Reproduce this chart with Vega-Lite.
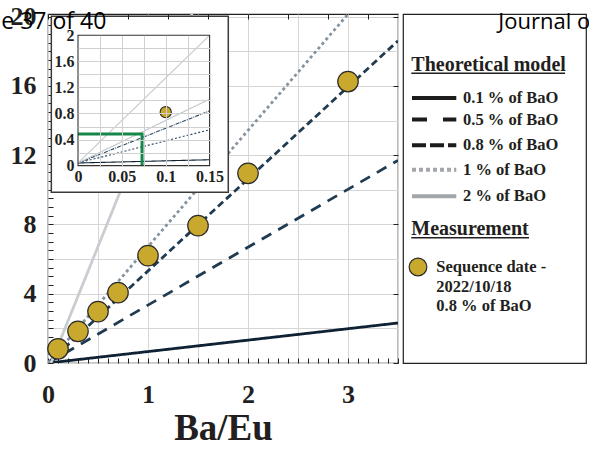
{
  "$schema": "https://vega.github.io/schema/vega-lite/v6.json",
  "padding": {"left": 0, "top": 2, "right": 0, "bottom": 0},
  "background": "white",
  "config": {"view": {"stroke": "#231f20", "strokeWidth": 1.2}, "font": "Liberation Serif"},
  "datasets": {
    "main_lines": [
      {"model": "0.1 % of BaO", "ba_eu": 0, "ratio": 0},
      {"model": "0.1 % of BaO", "ba_eu": 3.5, "ratio": 2.31},
      {"model": "0.5 % of BaO", "ba_eu": 0, "ratio": 0},
      {"model": "0.5 % of BaO", "ba_eu": 3.5, "ratio": 11.7},
      {"model": "0.8 % of BaO", "ba_eu": 0, "ratio": 0},
      {"model": "0.8 % of BaO", "ba_eu": 3.5, "ratio": 18.6},
      {"model": "1 % of BaO", "ba_eu": 0, "ratio": 0},
      {"model": "1 % of BaO", "ba_eu": 3.5, "ratio": 23.5},
      {"model": "2 % of BaO", "ba_eu": 0.03, "ratio": 0},
      {"model": "2 % of BaO", "ba_eu": 1.6, "ratio": 22.45}
    ],
    "measurements": [
      {"ba_eu": 0.1, "ratio": 0.82},
      {"ba_eu": 0.3, "ratio": 1.83},
      {"ba_eu": 0.5, "ratio": 2.97},
      {"ba_eu": 0.7, "ratio": 4.06},
      {"ba_eu": 1.0, "ratio": 6.2},
      {"ba_eu": 1.5, "ratio": 7.93},
      {"ba_eu": 2.0, "ratio": 10.95},
      {"ba_eu": 3.0, "ratio": 16.25}
    ],
    "inset_lines": [
      {"model": "0.1 % of BaO", "ba_eu": 0, "ratio": 0.04},
      {"model": "0.1 % of BaO", "ba_eu": 0.15, "ratio": 0.09},
      {"model": "0.5 % of BaO", "ba_eu": 0, "ratio": 0.04},
      {"model": "0.5 % of BaO", "ba_eu": 0.15, "ratio": 0.55},
      {"model": "0.8 % of BaO", "ba_eu": 0, "ratio": 0.04},
      {"model": "0.8 % of BaO", "ba_eu": 0.15, "ratio": 0.84},
      {"model": "1 % of BaO", "ba_eu": 0, "ratio": 0.04},
      {"model": "1 % of BaO", "ba_eu": 0.15, "ratio": 1.02},
      {"model": "2 % of BaO", "ba_eu": 0, "ratio": 0.04},
      {"model": "2 % of BaO", "ba_eu": 0.15, "ratio": 2.0}
    ],
    "inset_point": [{"ba_eu": 0.1, "ratio": 0.82}],
    "threshold": [
      {"ba_eu": 0, "ratio": 0.485, "step": 1},
      {"ba_eu": 0.073, "ratio": 0.485, "step": 2},
      {"ba_eu": 0.073, "ratio": 0, "step": 3}
    ],
    "legend_headers": [
      {"label": "Theoretical model", "row": 5.68},
      {"label": "Measurement", "row": 22.12}
    ],
    "legend_models": [
      {"label": "0.1 % of BaO", "row": 8.42},
      {"label": "0.5 % of BaO", "row": 10.59},
      {"label": "0.8 % of BaO", "row": 13.17},
      {"label": "1 % of BaO", "row": 15.61},
      {"label": "2 % of BaO", "row": 18.28}
    ],
    "legend_measurement": [
      {"label": "Sequence date -\n2022/10/18\n0.8 % of BaO", "row": 25.37}
    ]
  },
  "hconcat": [
    {
      "width": 350,
      "height": 349,
      "layer": [
        {
          "data": {"name": "measurements"},
          "mark": {"type": "point", "opacity": 0},
          "encoding": {
            "x": {
              "field": "ba_eu", "type": "quantitative",
              "scale": {"domain": [0, 3.5], "nice": false, "zero": false},
              "axis": {
                "orient": "bottom", "title": null, "labels": false, "domain": false,
                "values": [0,0.1,0.2,0.3,0.4,0.5,0.6,0.7,0.8,0.9,1,1.1,1.2,1.3,1.4,1.5,1.6,1.7,1.8,1.9,2,2.1,2.2,2.3,2.4,2.5,2.6,2.7,2.8,2.9,3,3.1,3.2,3.3,3.4,3.5],
                "tickSize": -5, "tickColor": "#231f20", "tickWidth": 1,
                "grid": true, "gridColor": "#d6d6d6", "gridWidth": 1,
                "gridOpacity": {"condition": {"test": "abs(datum.value*2 - round(datum.value*2)) < 0.001", "value": 1}, "value": 0}
              }
            },
            "y": {
              "field": "ratio", "type": "quantitative",
              "scale": {"domain": [0, 20.15], "nice": false, "zero": false},
              "axis": {
                "orient": "left", "title": null, "labels": false, "domain": false,
                "values": [0,0.5,1,1.5,2,2.5,3,3.5,4,4.5,5,5.5,6,6.5,7,7.5,8,8.5,9,9.5,10,10.5,11,11.5,12,12.5,13,13.5,14,14.5,15,15.5,16,16.5,17,17.5,18,18.5,19,19.5,20],
                "tickSize": -5, "tickColor": "#231f20", "tickWidth": 1,
                "grid": true, "gridColor": "#d6d6d6", "gridWidth": 1,
                "gridOpacity": {"condition": {"test": "abs(datum.value/2 - round(datum.value/2)) < 0.001", "value": 1}, "value": 0}
              }
            }
          }
        },
        {
          "layer": [
            {
              "data": {"name": "main_lines"},
              "mark": {"type": "line", "clip": true, "strokeCap": "butt", "strokeWidth": 2.8},
              "encoding": {
                "x": {
                  "field": "ba_eu", "type": "quantitative",
                  "scale": {"domain": [0, 3.5], "nice": false, "zero": false},
                  "axis": {
                    "orient": "bottom", "title": "Ba/Eu", "values": [0, 1, 2, 3], "format": "d",
                    "labelFont": "Liberation Serif", "labelFontWeight": "bold", "labelFontSize": 26, "labelColor": "#231f20",
                    "labelPadding": 18, "labelOverlap": false, "labelFlush": false, "labelBound": false,
                    "ticks": false, "domain": false, "grid": false,
                    "titleFont": "Liberation Serif", "titleFontWeight": "bold", "titleFontSize": 37, "titleColor": "#231f20", "titlePadding": 3
                  }
                },
                "y": {
                  "field": "ratio", "type": "quantitative",
                  "scale": {"domain": [0, 20.15], "nice": false, "zero": false},
                  "axis": {
                    "orient": "left", "title": null, "values": [0, 4, 8, 12, 16, 20], "format": "d",
                    "labelFont": "Liberation Serif", "labelFontWeight": "bold", "labelFontSize": 26, "labelColor": "#231f20",
                    "labelPadding": 12, "labelOverlap": false, "labelFlush": false, "labelBound": false,
                    "ticks": false, "domain": false, "grid": false
                  }
                },
                "detail": {"field": "model"},
                "color": {
                  "field": "model", "type": "nominal", "legend": null,
                  "scale": {"domain": ["0.1 % of BaO","0.5 % of BaO","0.8 % of BaO","1 % of BaO","2 % of BaO"],
                            "range": ["#0e2233","#1f3b52","#1f3b52","#8593a0","#c9cdd1"]}
                },
                "strokeDash": {
                  "field": "model", "type": "nominal", "legend": null,
                  "scale": {"domain": ["0.1 % of BaO","0.5 % of BaO","0.8 % of BaO","1 % of BaO","2 % of BaO"],
                            "range": [[1,0],[11,8],[7,4],[3,3],[1,0]]}
                }
              }
            },
            {
              "data": {"name": "measurements"},
              "mark": {"type": "circle", "size": 420, "opacity": 1, "fill": "#c8a92d", "stroke": "#2a2a2a", "strokeWidth": 1.2},
              "encoding": {
                "x": {"field": "ba_eu", "type": "quantitative"},
                "y": {"field": "ratio", "type": "quantitative"}
              }
            }
          ]
        },
        {
          "layer": [
            {
              "data": {"values": [{}]},
              "mark": {"type": "rect", "fill": "white", "stroke": "#3a3a3a", "strokeWidth": 1.5},
              "encoding": {
                "x": {"datum": -0.0304, "type": "quantitative", "scale": {"domain": [0, 0.15], "range": [30, 161.6], "nice": false, "zero": false}},
                "x2": {"datum": 0.1713},
                "y": {"datum": -0.41, "type": "quantitative", "scale": {"domain": [0, 2], "range": [151.6, 21.3], "nice": false, "zero": false}},
                "y2": {"datum": 2.292}
              }
            },
            {
              "data": {"name": "inset_lines"},
              "mark": {"type": "line", "strokeWidth": 1.1, "strokeCap": "butt"},
              "encoding": {
                "x": {
                  "field": "ba_eu", "type": "quantitative",
                  "scale": {"domain": [0, 0.15], "range": [30, 161.6], "nice": false, "zero": false},
                  "axis": {
                    "orient": "bottom", "offset": -197.4, "title": null,
                    "values": [0, 0.05, 0.1, 0.15],
                    "labelExpr": "format(datum.value, '~g')",
                    "ticks": false, "domain": false, "grid": false,
                    "labelFont": "Liberation Serif", "labelFontWeight": "bold", "labelFontSize": 16, "labelColor": "#231f20",
                    "labelPadding": 3, "labelOverlap": false, "labelFlush": false, "labelBound": false, "zindex": 1
                  }
                },
                "y": {
                  "field": "ratio", "type": "quantitative",
                  "scale": {"domain": [0, 2], "range": [151.6, 21.3], "nice": false, "zero": false},
                  "axis": {
                    "orient": "left", "offset": -30, "title": null,
                    "values": [0, 0.4, 0.8, 1.2, 1.6, 2],
                    "labelExpr": "format(datum.value, '~g')",
                    "ticks": false, "domain": false, "grid": false,
                    "labelFont": "Liberation Serif", "labelFontWeight": "bold", "labelFontSize": 16, "labelColor": "#231f20",
                    "labelPadding": 4, "labelOverlap": false, "labelFlush": false, "labelBound": false, "zindex": 1
                  }
                },
                "detail": {"field": "model"},
                "color": {
                  "field": "model", "type": "nominal", "legend": null,
                  "scale": {"domain": ["0.1 % of BaO","0.5 % of BaO","0.8 % of BaO","1 % of BaO","2 % of BaO"],
                            "range": ["#0e2233","#2e4a63","#2e4a63","#c0c5ca","#c5c9cc"]}
                },
                "strokeDash": {
                  "field": "model", "type": "nominal", "legend": null,
                  "scale": {"domain": ["0.1 % of BaO","0.5 % of BaO","0.8 % of BaO","1 % of BaO","2 % of BaO"],
                            "range": [[1,0],[2,2],[4,1,1,1],[1,0],[1,0]]}
                }
              }
            },
            {
              "data": {"name": "threshold"},
              "mark": {"type": "line", "color": "#15874b", "strokeWidth": 3, "strokeCap": "butt", "strokeJoin": "miter"},
              "encoding": {
                "x": {"field": "ba_eu", "type": "quantitative"},
                "y": {"field": "ratio", "type": "quantitative"},
                "order": {"field": "step", "type": "quantitative"}
              }
            },
            {
              "data": {"name": "inset_point"},
              "mark": {"type": "circle", "size": 125, "opacity": 1, "fill": "#c8a92d", "stroke": "#2a2a2a", "strokeWidth": 1.1},
              "encoding": {
                "x": {"field": "ba_eu", "type": "quantitative"},
                "y": {"field": "ratio", "type": "quantitative"}
              }
            },
            {
              "data": {"values": [{}]},
              "mark": {"type": "rect", "fill": null, "fillOpacity": 0, "stroke": "#333333", "strokeWidth": 1.1},
              "encoding": {
                "x": {"datum": 0, "type": "quantitative"},
                "x2": {"datum": 0.15},
                "y": {"datum": 0, "type": "quantitative"},
                "y2": {"datum": 2}
              }
            }
          ]
        },
        {
          "data": {"name": "inset_point"},
          "mark": {"type": "point", "opacity": 0},
          "encoding": {
            "x": {
              "field": "ba_eu", "type": "quantitative",
              "scale": {"domain": [0, 0.15], "range": [30, 161.6], "nice": false, "zero": false},
              "axis": {
                "orient": "bottom", "title": null, "labels": false, "ticks": false, "domain": false,
                "values": [0, 0.025, 0.05, 0.075, 0.1, 0.125, 0.15],
                "grid": true, "gridColor": "#d0d0d0", "gridWidth": 1,
                "gridOpacity": {"condition": {"test": "datum.value > 0.001 && datum.value < 0.149", "value": 1}, "value": 0},
                "zindex": 1
              }
            },
            "y": {
              "field": "ratio", "type": "quantitative",
              "scale": {"domain": [0, 2], "range": [327.7, 197.4], "nice": false, "zero": false},
              "axis": null
            }
          }
        },
        {
          "data": {"name": "inset_point"},
          "mark": {"type": "point", "opacity": 0},
          "encoding": {
            "x": {
              "field": "ba_eu", "type": "quantitative",
              "scale": {"domain": [0, 0.15], "range": [30, 161.6], "nice": false, "zero": false},
              "axis": null
            },
            "y": {
              "field": "ratio", "type": "quantitative",
              "scale": {"domain": [0, 2], "range": [151.6, 21.3], "nice": false, "zero": false},
              "axis": {
                "orient": "left", "title": null, "labels": false, "ticks": false, "domain": false,
                "values": [0, 0.2, 0.4, 0.6, 0.8, 1, 1.2, 1.4, 1.6, 1.8, 2],
                "grid": true, "gridColor": "#d0d0d0", "gridWidth": 1,
                "gridOpacity": {"condition": {"test": "datum.value > 0.001 && datum.value < 1.99", "value": 1}, "value": 0},
                "zindex": 1
              }
            }
          }
        },
        {
          "layer": [
            {
              "data": {"name": "measurements"},
              "mark": {"type": "point", "opacity": 0},
              "encoding": {
                "x": {
                  "field": "ba_eu", "type": "quantitative",
                  "scale": {"domain": [0, 3.5], "nice": false, "zero": false},
                  "axis": {
                    "orient": "top", "title": null, "labels": false, "grid": false, "domain": false,
                    "values": [0,0.1,0.2,0.3,0.4,0.5,0.6,0.7,0.8,0.9,1,1.1,1.2,1.3,1.4,1.5,1.6,1.7,1.8,1.9,2,2.1,2.2,2.3,2.4,2.5,2.6,2.7,2.8,2.9,3,3.1,3.2,3.3,3.4,3.5],
                    "tickSize": -5, "tickColor": "#231f20", "tickWidth": 1, "zindex": 1
                  }
                },
                "y": {
                  "field": "ratio", "type": "quantitative",
                  "scale": {"domain": [0, 20.15], "nice": false, "zero": false},
                  "axis": {
                    "orient": "right", "title": null, "labels": false, "grid": false, "domain": false,
                    "values": [0,0.5,1,1.5,2,2.5,3,3.5,4,4.5,5,5.5,6,6.5,7,7.5,8,8.5,9,9.5,10,10.5,11,11.5,12,12.5,13,13.5,14,14.5,15,15.5,16,16.5,17,17.5,18,18.5,19,19.5,20],
                    "tickSize": -5, "tickColor": "#231f20", "tickWidth": 1, "zindex": 1
                  }
                }
              }
            },
            {
              "data": {"values": [{}]},
              "mark": {"type": "text", "text": "e 37 of 40", "font": "Open Sans", "fontSize": 23, "align": "left", "baseline": "alphabetic", "color": "#000000"},
              "encoding": {
                "x": {"datum": -0.467, "type": "quantitative"},
                "y": {"datum": 19.27, "type": "quantitative"}
              }
            }
          ]
        }
      ],
      "resolve": {
        "scale": {"x": "independent", "y": "independent", "color": "independent", "strokeDash": "independent"},
        "axis": {"x": "independent", "y": "independent"}
      }
    },
    {
      "width": 183,
      "height": 349,
      "view": {"stroke": "#231f20", "strokeWidth": 1.2, "fill": "white"},
      "layer": [
        {
          "data": {"name": "legend_headers"},
          "mark": {"type": "text", "align": "left", "baseline": "alphabetic", "font": "Liberation Serif", "fontWeight": "bold", "fontSize": 20, "color": "#231f20"},
          "encoding": {
            "x": {"datum": 0.83, "type": "quantitative", "scale": {"domain": [0, 18.3], "nice": false, "zero": false}, "axis": null},
            "y": {"field": "row", "type": "quantitative", "scale": {"domain": [0, 35], "reverse": true, "nice": false, "zero": false}, "axis": null},
            "text": {"field": "label"}
          }
        },
        {
          "data": {"values": [{}]},
          "mark": {"type": "rule", "color": "#231f20", "strokeWidth": 1.5},
          "encoding": {
            "x": {"datum": 0.83, "type": "quantitative"},
            "x2": {"datum": 16.2},
            "y": {"datum": 5.95, "type": "quantitative"}
          }
        },
        {
          "data": {"values": [{}]},
          "mark": {"type": "rule", "color": "#231f20", "strokeWidth": 1.5},
          "encoding": {
            "x": {"datum": 0.83, "type": "quantitative"},
            "x2": {"datum": 12.6},
            "y": {"datum": 22.45, "type": "quantitative"}
          }
        },
        {
          "data": {"name": "legend_models"},
          "mark": {"type": "rule", "strokeWidth": 4, "strokeCap": "butt"},
          "encoding": {
            "x": {"datum": 0.9, "type": "quantitative"},
            "x2": {"datum": 5.33},
            "y": {"field": "row", "type": "quantitative"},
            "color": {
              "field": "label", "type": "nominal", "legend": null,
              "scale": {"domain": ["0.1 % of BaO","0.5 % of BaO","0.8 % of BaO","1 % of BaO","2 % of BaO"],
                        "range": ["#1c1c1c","#1c1c1c","#1c1c1c","#a3a7ab","#a3a7ab"]}
            },
            "strokeDash": {
              "field": "label", "type": "nominal", "legend": null,
              "scale": {"domain": ["0.1 % of BaO","0.5 % of BaO","0.8 % of BaO","1 % of BaO","2 % of BaO"],
                        "range": [[1,0],[15,16],[14,4],[4,3],[1,0]]}
            }
          }
        },
        {
          "data": {"name": "legend_models"},
          "mark": {"type": "text", "align": "left", "baseline": "middle", "font": "Liberation Serif", "fontWeight": "bold", "fontSize": 16.5, "color": "#231f20"},
          "encoding": {
            "x": {"datum": 6.0, "type": "quantitative"},
            "y": {"field": "row", "type": "quantitative"},
            "text": {"field": "label"}
          }
        },
        {
          "data": {"name": "legend_measurement"},
          "mark": {"type": "circle", "size": 314, "opacity": 1, "fill": "#c8a92d", "stroke": "#2a2a2a", "strokeWidth": 1.2},
          "encoding": {
            "x": {"datum": 1.5, "type": "quantitative"},
            "y": {"field": "row", "type": "quantitative"}
          }
        },
        {
          "data": {"name": "legend_measurement"},
          "mark": {"type": "text", "align": "left", "baseline": "middle", "lineBreak": "\n", "lineHeight": 19.6, "font": "Liberation Serif", "fontWeight": "bold", "fontSize": 16.5, "color": "#231f20"},
          "encoding": {
            "x": {"datum": 3.33, "type": "quantitative"},
            "y": {"field": "row", "type": "quantitative"},
            "text": {"field": "label"}
          }
        },
        {
          "data": {"values": [{}]},
          "mark": {"type": "text", "text": "Journal of", "font": "Open Sans", "fontSize": 22, "align": "left", "baseline": "alphabetic", "color": "#000000"},
          "encoding": {
            "x": {"datum": 9.53, "type": "quantitative"},
            "y": {"datum": 1.53, "type": "quantitative"}
          }
        }
      ]
    }
  ],
  "spacing": 5,
  "bounds": "flush",
  "resolve": {"scale": {"color": "independent", "strokeDash": "independent"}}
}
